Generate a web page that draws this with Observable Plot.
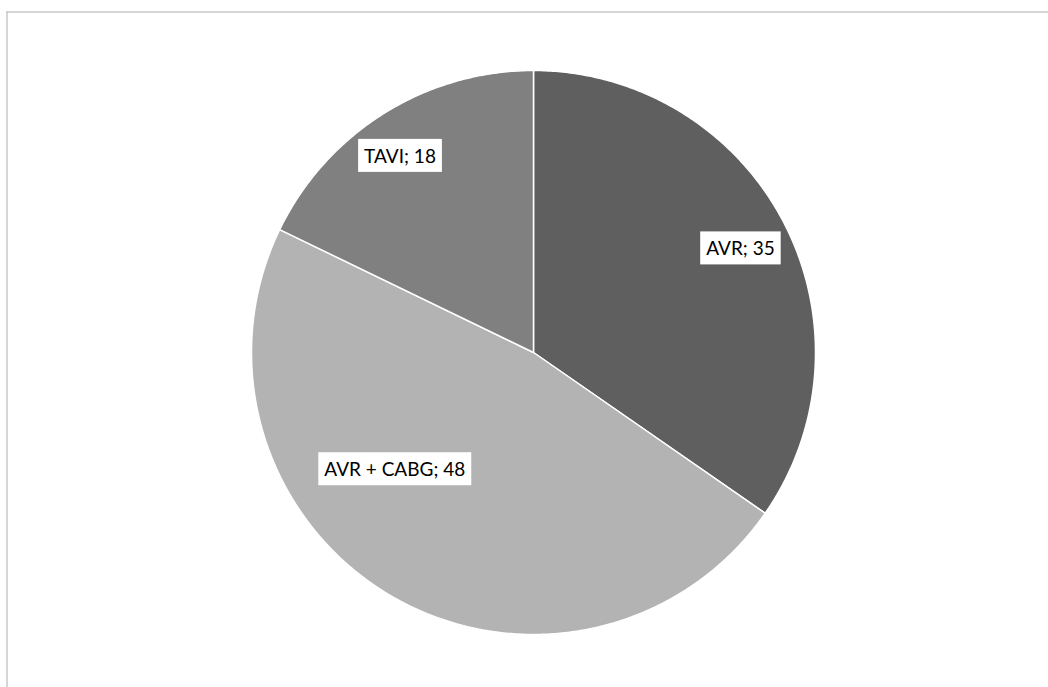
<!DOCTYPE html>
<html>
<head>
<meta charset="utf-8">
<script src="https://cdn.jsdelivr.net/npm/d3@7"></script>
<script src="https://cdn.jsdelivr.net/npm/@observablehq/plot@0.6"></script>
<style>
  html, body { margin: 0; padding: 0; background: #fff; }
  #chart svg { display: block; }
</style>
</head>
<body>
<div id="chart"></div>
<script>
// ---- data ----
const categories = ["AVR", "AVR + CABG", "TAVI"];
const values = [35, 48, 18];
const colors = ["#5f5f5f", "#b3b3b3", "#808080"];
// label placement: angle (deg clockwise from 12 o'clock) and radial fraction
const labelAngles = [63.5, 229.7, 325.7];
const labelRadii = [0.82, 0.645, 0.84];

// ---- build slices via d3.pie ----
const pie = d3.pie().sort(null).value(d => d.value);
const rows = categories.map((c, i) => ({category: c, value: values[i]}));
const arcs = pie(rows);
const pts = [];
arcs.forEach(a => {
  const c = a.data.category;
  pts.push({category: c, x: 0, y: 0});
  const n = Math.max(2, Math.ceil((a.endAngle - a.startAngle) / (Math.PI / 360)));
  for (let k = 0; k <= n; k++) {
    const t = a.startAngle + (a.endAngle - a.startAngle) * k / n;
    pts.push({category: c, x: Math.sin(t), y: Math.cos(t)});
  }
  pts.push({category: c, x: 0, y: 0});
});
const labels = categories.map((c, i) => {
  const t = labelAngles[i] * Math.PI / 180;
  return {text: `${c}; ${values[i]}`, x: labelRadii[i] * Math.sin(t), y: labelRadii[i] * Math.cos(t)};
});

const cx = 533, cy = 352, r = 282;
const chart = Plot.plot({
  width: 1048,
  height: 687,
  marginLeft: 6.5,
  marginTop: 11.5,
  marginRight: 0,
  marginBottom: 0,
  x: {domain: [-1, 1], range: [cx - r, cx + r], axis: null},
  y: {domain: [-1, 1], range: [cy + r, cy - r], axis: null},
  color: {domain: categories, range: colors},
  style: {fontFamily: "Lato, sans-serif", background: "#fff"},
  marks: [
    Plot.frame({anchor: "top", stroke: "#c9c9c9", strokeWidth: 1.5}),
    Plot.frame({anchor: "left", stroke: "#c9c9c9", strokeWidth: 1.5}),
    Plot.line(pts, {x: "x", y: "y", z: "category", fill: "category", stroke: "#fff", strokeWidth: 1.5, strokeLinejoin: "round"}),
    Plot.text(labels, {x: "x", y: "y", text: "text", fontSize: 19, fill: "#000", className: "pie-label"})
  ]
});
document.getElementById("chart").appendChild(chart);

// white boxes behind labels
chart.querySelectorAll(".pie-label text").forEach(t => {
  const b = t.getBBox();
  const rect = document.createElementNS("http://www.w3.org/2000/svg", "rect");
  const h = 33, padX = 6;
  rect.setAttribute("x", b.x - padX);
  rect.setAttribute("y", b.y + b.height / 2 - h / 2);
  rect.setAttribute("width", b.width + 2 * padX);
  rect.setAttribute("height", h);
  rect.setAttribute("fill", "#fff");
  const tr = t.getAttribute("transform");
  if (tr) rect.setAttribute("transform", tr);
  t.parentNode.insertBefore(rect, t);
});
</script>
</body>
</html>
